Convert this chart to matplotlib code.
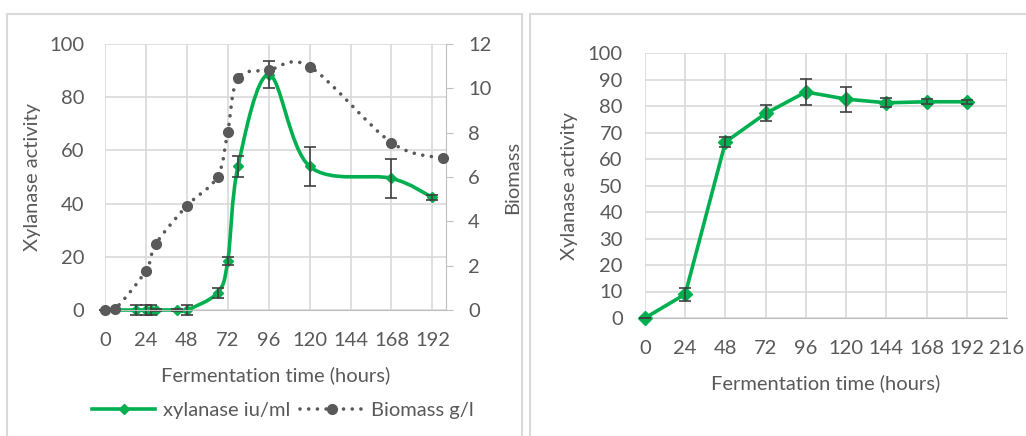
import numpy as np
import matplotlib
matplotlib.use("Agg")
from matplotlib import pyplot as plt
from matplotlib.path import Path
from matplotlib.patches import PathPatch, Rectangle
from matplotlib.lines import Line2D

plt.rcParams['font.family'] = ['Lato', 'DejaVu Sans']

# left chart: xylanase and biomass over time
xyl_t = [0, 18, 24, 27, 30, 42, 48, 66, 72, 78, 96, 120, 168, 192]
xyl_v = [0, 0, 0, 0, 0, 0, 0, 6.5, 18.5, 54, 88.5, 54, 49.5, 42.3]
xyl_err = [0, 2, 2, 2, 0.5, 0.5, 2, 1.9, 1.5, 4, 5, 7.2, 7.3, 0.8]

bio_t = [0, 6, 24, 30, 48, 66, 72, 78, 96, 120, 168, 198]
bio_v = [0, 0.05, 1.77, 3.0, 4.7, 6.02, 8.05, 10.45, 10.82, 10.98, 7.55, 6.85]

# right chart: xylanase activity
act_t = [0, 24, 48, 72, 96, 120, 144, 168, 192]
act_v = [0, 9, 66.4, 77.2, 85.3, 82.6, 81.2, 81.6, 81.6]
act_err = [0, 2.4, 1.8, 3, 5, 4.7, 1.7, 1.0, 0.8]

GREEN = '#00b050'
GREY = '#595959'
GRID = '#d9d9d9'
TXT = '#595959'
FS = 14.5


def smooth_path(x, y):
    # Excel-like smoothed line as cubic bezier segments
    p = np.column_stack([x, y]).astype(float)
    n = len(p)
    verts = [p[0]]
    codes = [Path.MOVETO]
    for i in range(n - 1):
        p0 = p[i - 1] if i > 0 else p[i]
        p3 = p[i + 2] if i + 2 < n else p[i + 1]
        verts += [p[i] + (p[i + 1] - p0) / 6, p[i + 1] - (p3 - p[i]) / 6, p[i + 1]]
        codes += [Path.CURVE4] * 3
    return Path(verts, codes)


fig = plt.figure(figsize=(10.26, 4.36), dpi=100)
W, H = 1026, 436


def box(l, t, r, b):
    return [l / W, 1 - b / H, (r - l) / W, (b - t) / H]


# chart borders
fig.patches.append(Rectangle((7 / W, -0.01), 515 / W, 1 - 14 / H + 0.01, transform=fig.transFigure,
                             fill=False, ec=GRID, lw=1.5))
fig.patches.append(Rectangle((530 / W, -0.01), 0.6, 1 - 14 / H + 0.01, transform=fig.transFigure,
                             fill=False, ec=GRID, lw=1.5))

# ---- left chart
ax = fig.add_axes(box(105, 44, 446, 310))
ax2 = ax.twinx()
ax.set_xlim(0, 200)
ax.set_ylim(0, 100)
ax2.set_ylim(0, 12)
ax.set_xticks(range(0, 193, 24))
ax.set_yticks(range(0, 101, 20))
ax2.set_yticks(range(0, 13, 2))
ax.grid(True, color=GRID, lw=1.2)
ax.set_axisbelow(True)

ax.add_patch(PathPatch(smooth_path(xyl_t, xyl_v), fill=False, ec=GREEN, lw=2.6,
                       capstyle='round', joinstyle='round', clip_on=False, zorder=3))
ax.plot(xyl_t, xyl_v, ls='none', marker='D', ms=5, color=GREEN, clip_on=False, zorder=4)
ax.errorbar(xyl_t, xyl_v, yerr=xyl_err, fmt='none', ecolor='#404040', elinewidth=1.2,
            capsize=4, capthick=1.2, clip_on=False, zorder=5)

ax2.add_patch(PathPatch(smooth_path(bio_t, bio_v), fill=False, ec=GREY, lw=2.6,
                        ls=(0, (0.01, 2.4)), capstyle='round', clip_on=False, zorder=3))
ax2.plot(bio_t, bio_v, ls='none', marker='o', ms=7, color=GREY, clip_on=False, zorder=4)

for a in (ax, ax2):
    for s in a.spines.values():
        s.set_visible(False)
ax2.spines['right'].set_visible(True)
ax2.spines['right'].set_color('#bfbfbf')
ax2.spines['bottom'].set_visible(True)
ax2.spines['bottom'].set_color('#bfbfbf')
ax.tick_params(axis='both', length=0, labelsize=FS, labelcolor=TXT, pad=15)
ax.tick_params(axis='x', pad=16)
ax2.tick_params(axis='y', length=5, color='#bfbfbf', labelsize=FS, labelcolor=TXT, pad=11)
ax.set_xlabel('Fermentation time (hours)', fontsize=FS, color=TXT, labelpad=12)
ax.set_ylabel('Xylanase activity', fontsize=FS, color=TXT, labelpad=6)
ax2.set_ylabel('Biomass', fontsize=FS, color=TXT, labelpad=9)

handles = [Line2D([], [], color=GREEN, lw=2.6, marker='D', ms=5),
           Line2D([], [], color=GREY, lw=2.6, ls=(0, (0.01, 2.4)), dash_capstyle='round',
                  marker='o', ms=7)]
fig.legend(handles, ['xylanase iu/ml', 'Biomass g/l'], loc='center', bbox_to_anchor=(283 / W, 1 - 410 / H),
           ncol=2, frameon=False, fontsize=FS, labelcolor=TXT, handlelength=3.1,
           columnspacing=0.5, handletextpad=0.4)

# ---- right chart
bx = fig.add_axes(box(645, 53, 1007, 318))
bx.set_xlim(0, 216)
bx.set_ylim(0, 100)
bx.set_xticks(range(0, 217, 24))
bx.set_yticks(range(0, 101, 10))
bx.grid(True, color=GRID, lw=1.2)
bx.set_axisbelow(True)
bx.plot(act_t, act_v, color=GREEN, lw=2.6, marker='D', ms=7, clip_on=False, zorder=3)
bx.errorbar(act_t, act_v, yerr=act_err, fmt='none', ecolor='#404040', elinewidth=1.2,
            capsize=4, capthick=1.2, clip_on=False, zorder=4)
for s in bx.spines.values():
    s.set_visible(False)
bx.spines['bottom'].set_visible(True)
bx.spines['bottom'].set_color('#bfbfbf')
bx.tick_params(axis='both', length=0, labelsize=FS, labelcolor=TXT, pad=16)
bx.tick_params(axis='x', pad=16)
bx.set_xlabel('Fermentation time (hours)', fontsize=FS, color=TXT, labelpad=12)
bx.set_ylabel('Xylanase activity', fontsize=FS, color=TXT, labelpad=7)

fig.savefig('out.png', dpi=100)
